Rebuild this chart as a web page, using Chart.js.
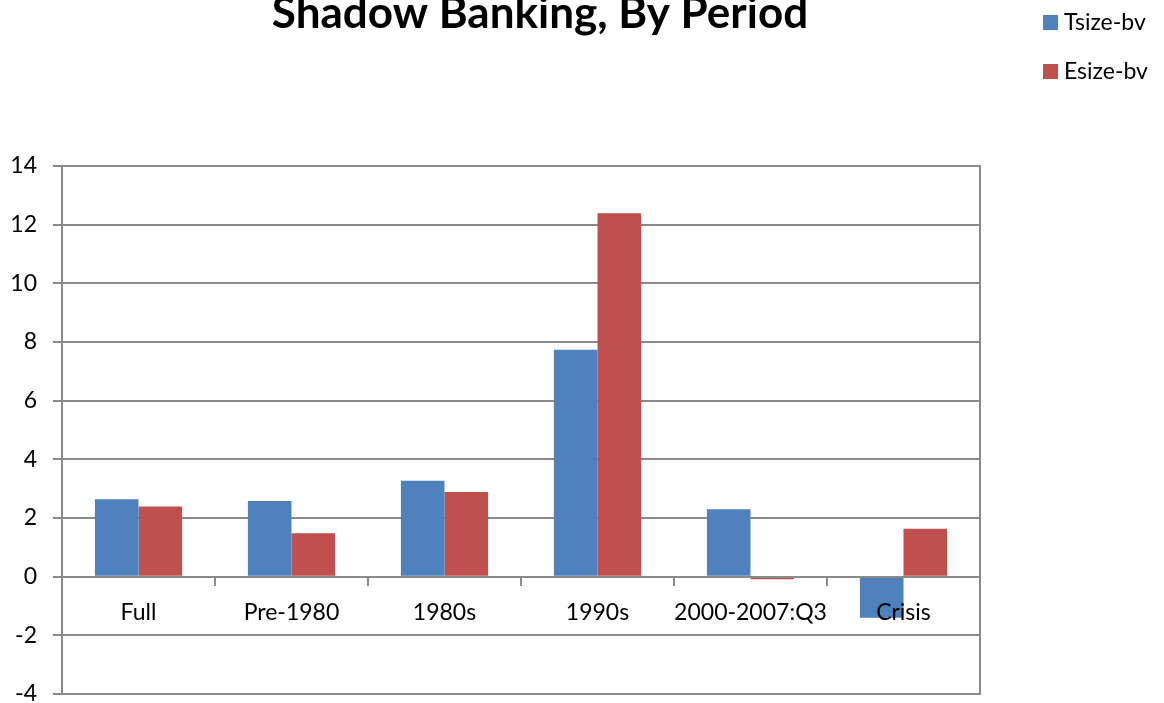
<!DOCTYPE html>
<html>
<head>
<meta charset="utf-8">
<title>Shadow Banking, By Period</title>
<script src="https://cdn.jsdelivr.net/npm/chart.js@4.4.1/dist/chart.umd.min.js"></script>
<style>
  html, body { margin: 0; padding: 0; background: #fff; }
  #wrap { position: relative; width: 1164px; height: 703px; }
</style>
</head>
<body>
<div id="wrap"><canvas id="chart"></canvas></div>
<script>
// periods and the two bank-value size measures
const periods = ['Full', 'Pre-1980', '1980s', '1990s', '2000-2007:Q3', 'Crisis'];
const tsizeBv = [2.64, 2.58, 3.27, 7.74, 2.30, -1.40];
const esizeBv = [2.39, 1.48, 2.89, 12.39, -0.09, 1.63];
const chartTitle = 'Shadow Banking, By Period';

const FONT = 'Lato, "Open Sans", sans-serif';
const GRID = '#8a8a8a';

// frame round the plot area
const plotFrame = {
  id: 'plotFrame',
  beforeDatasetsDraw(chart) {
    const { ctx, chartArea: a } = chart;
    ctx.save();
    ctx.strokeStyle = GRID;
    ctx.lineWidth = 2;
    ctx.strokeRect(a.left, a.top, a.right - a.left, a.bottom - a.top);
    ctx.restore();
  }
};

// title and the stacked legend in the top corner
const headings = {
  id: 'headings',
  afterDraw(chart) {
    const { ctx } = chart;
    ctx.save();
    ctx.fillStyle = '#000';
    ctx.font = 'bold 44px ' + FONT;
    ctx.textAlign = 'center';
    ctx.textBaseline = 'alphabetic';
    ctx.fillText(chartTitle, 540, 28);

    ctx.font = '23px ' + FONT;
    ctx.textAlign = 'left';
    ctx.textBaseline = 'middle';
    chart.data.datasets.forEach((ds, i) => {
      const y = 22 + i * 49;
      ctx.fillStyle = ds.backgroundColor;
      ctx.fillRect(1043, y - 7, 15, 15);
      ctx.fillStyle = '#000';
      ctx.fillText(ds.label, 1064, y + 1);
    });
    ctx.restore();
  }
};

new Chart(document.getElementById('chart'), {
  type: 'bar',
  data: {
    labels: periods,
    datasets: [
      { label: 'Tsize-bv', data: tsizeBv, backgroundColor: '#4F81BD' },
      { label: 'Esize-bv', data: esizeBv, backgroundColor: '#C0504D' }
    ]
  },
  options: {
    responsive: true,
    maintainAspectRatio: false,
    animation: false,
    layout: { padding: { top: 166, right: 184, bottom: 9, left: 0 } },
    datasets: { bar: { barPercentage: 1, categoryPercentage: 0.57 } },
    plugins: { legend: { display: false }, title: { display: false }, tooltip: { enabled: false } },
    scales: {
      x: {
        position: { y: 0 },
        offset: true,
        grid: { drawOnChartArea: false, drawTicks: true, tickLength: 8, color: GRID, lineWidth: 2, offset: true },
        border: { display: true, color: GRID, width: 2, z: 1 },
        ticks: { z: 1, autoSkip: false, color: '#000', font: { family: FONT, size: 23 }, padding: 14, maxRotation: 0 }
      },
      y: {
        min: -4,
        max: 14,
        grid: { color: GRID, lineWidth: 2, tickLength: 9 },
        border: { color: GRID, width: 2 },
        ticks: { stepSize: 2, color: '#000', font: { family: FONT, size: 23 }, padding: 16 },
        afterFit(scale) {
          scale.width = 62;
          scale.paddingTop = 0;
          scale.paddingBottom = 0;
        }
      }
    }
  },
  plugins: [plotFrame, headings]
});
</script>
</body>
</html>
